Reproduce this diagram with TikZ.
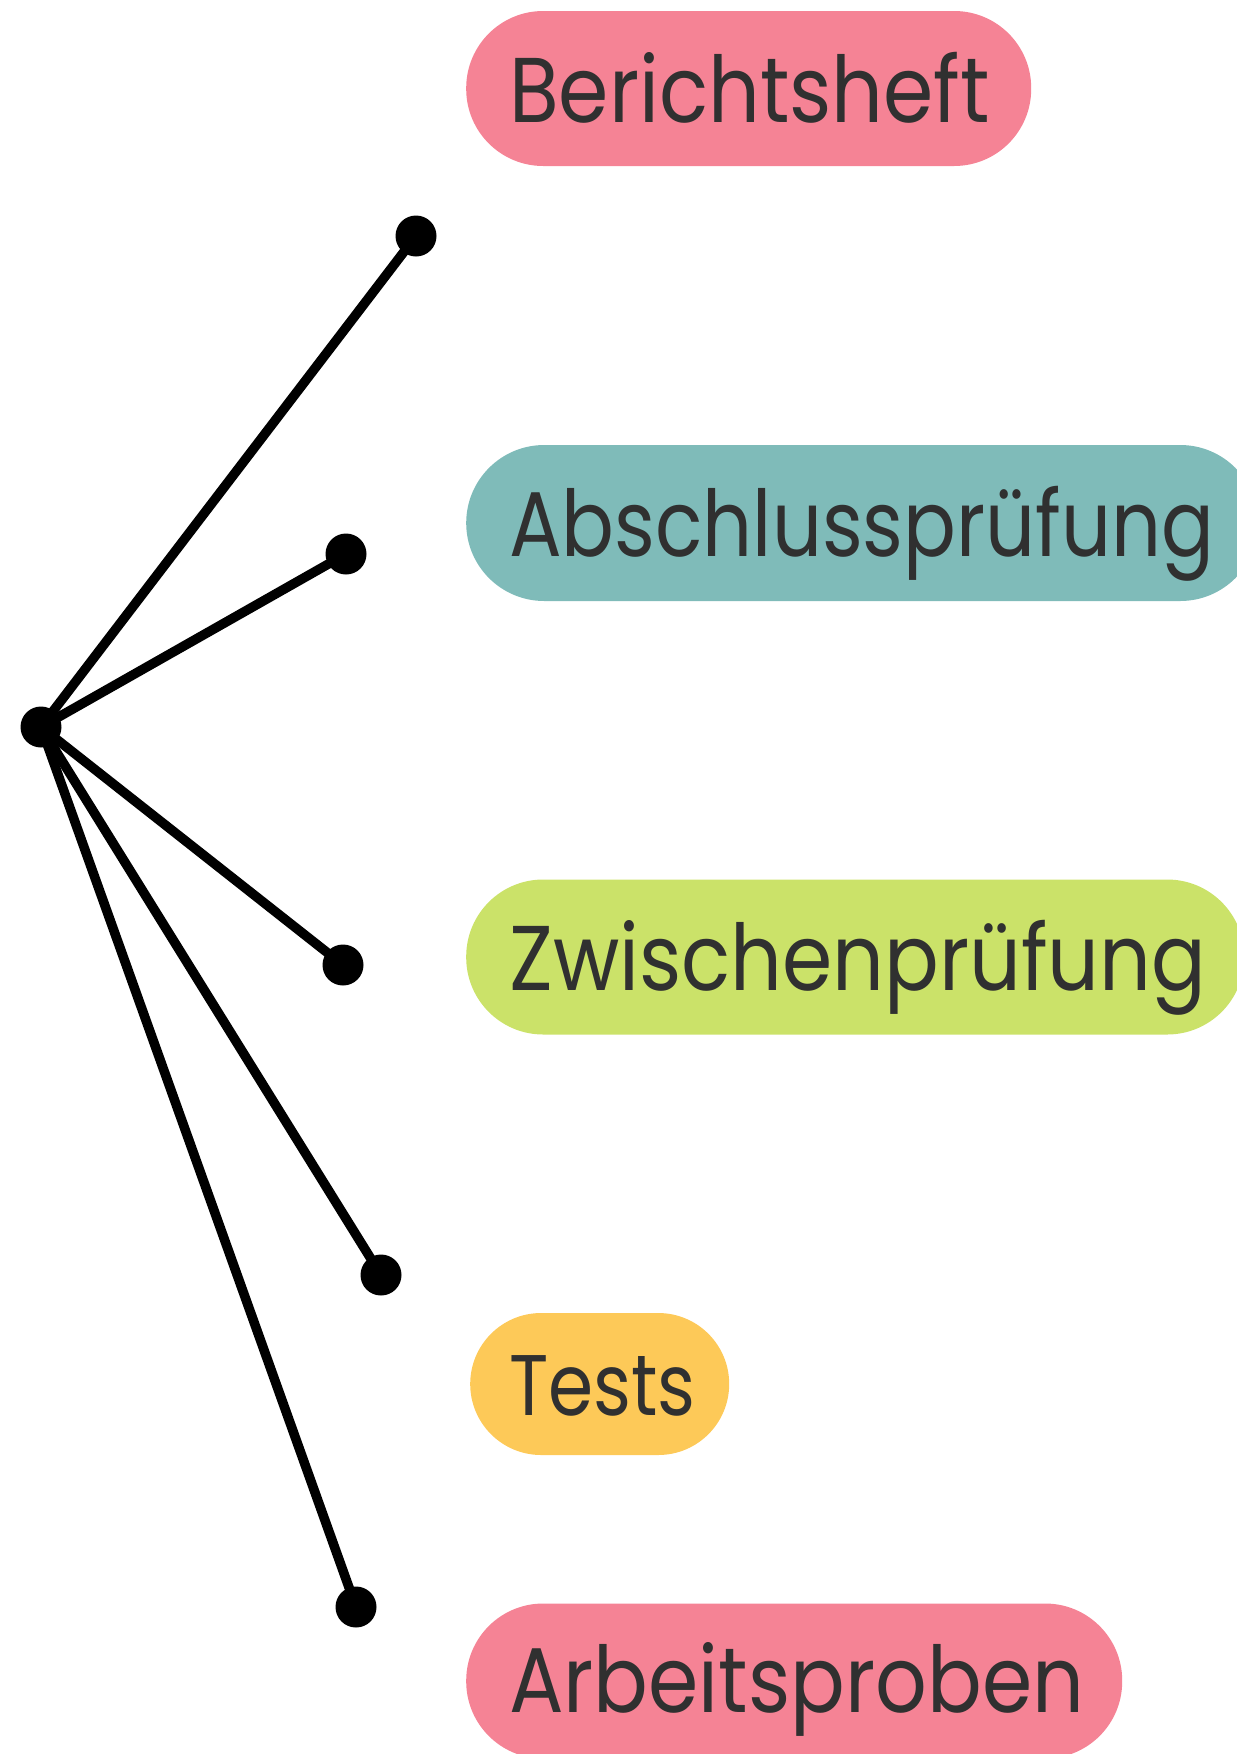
\documentclass[tikz,border=0pt]{standalone}
\usepackage{fontspec}
\setmainfont{Poppins}[FakeStretch=0.88]
\definecolor{pinkfill}{HTML}{F58395}
\definecolor{tealfill}{HTML}{7FBBB9}
\definecolor{limefill}{HTML}{CBE269}
\definecolor{sunfill}{HTML}{FDC958}
\definecolor{inktext}{HTML}{303030}
\tikzset{
  pill/.style={rectangle, rounded corners=#1, inner sep=0pt, anchor=west, draw=none},
  pilltext/.style={anchor=base west, inner sep=0pt, text=inktext, font=\fontsize{92}{92}\selectfont},
  dot/.style={circle, fill=black, minimum size=41pt, inner sep=0pt},
  spoke/.style={line width=9.5pt, black},
}
\begin{document}
\begin{tikzpicture}[x=1pt, y=-1pt]
\useasboundingbox (0,0) rectangle (1237,1754);
\clip (0,0) rectangle (1237,1754);

% coloured labels
\node[pill=77pt, fill=pinkfill, minimum width=565pt, minimum height=155pt] (bbox) at (466,88.5) {};
\node[pilltext] (btext) at (509,122) {Berichtsheft};

\node[pill=78pt, fill=tealfill, minimum width=792pt, minimum height=156pt] (abox) at (466,523) {};
\node[pilltext] (atext) at (509,556) {\scalebox{0.965}[1]{Abschlussprüfung}};

\node[pill=77pt, fill=limefill, minimum width=778pt, minimum height=155pt] (zbox) at (466,957) {};
\node[pilltext] (ztext) at (509,990.5) {Zwischenprüfung};

\node[pill=71pt, fill=sunfill, minimum width=259pt, minimum height=142pt] (tbox) at (470,1384) {};
\node[pilltext, font=\fontsize{86}{86}\selectfont] (ttext) at (509,1415) {\scalebox{0.96}[1]{Tests}};

\node[pill=77pt, fill=pinkfill, minimum width=656pt, minimum height=155pt] (wbox) at (466,1681) {};
\node[pilltext] (wtext) at (509,1712) {Arbeitsproben};

% hub and end points
\node[dot] (hub) at (41,727) {};
\node[dot] (d1) at (416,236) {};
\node[dot] (d2) at (346,554) {};
\node[dot] (d3) at (343,965) {};
\node[dot] (d4) at (381,1275) {};
\node[dot] (d5) at (356,1607) {};

\foreach \e in {d1,d2,d3,d4,d5}
  \draw[spoke] (hub.center) -- (\e.center);
\end{tikzpicture}
\end{document}
